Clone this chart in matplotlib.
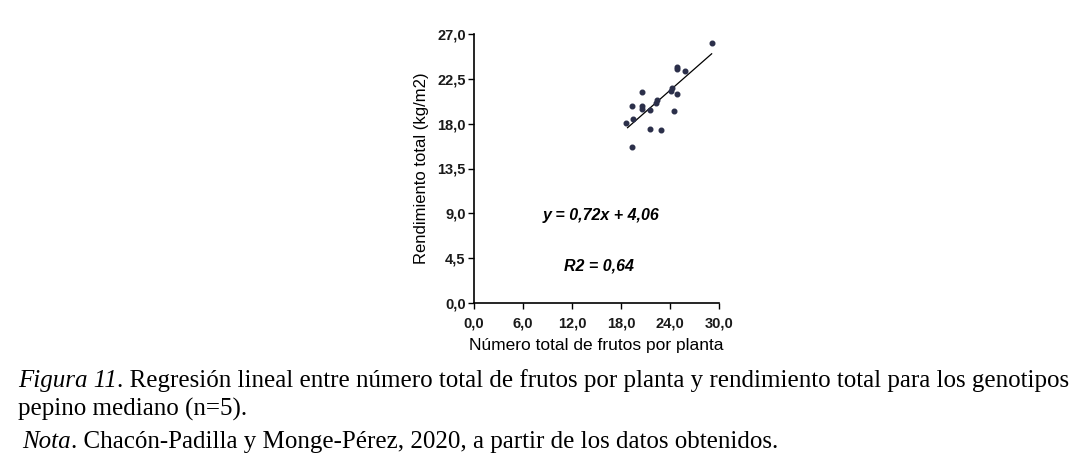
import matplotlib
matplotlib.use("Agg")
import matplotlib.pyplot as plt
import numpy as np

frutos = [29.2, 24.9, 24.8, 25.8, 24.2, 24.1, 24.9, 20.6, 22.4, 22.3, 19.3, 20.6,
          20.6, 21.5, 24.5, 19.5, 18.6, 21.5, 22.9, 19.4]
rendimiento = [26.1, 23.7, 23.5, 23.3, 21.6, 21.3, 21.0, 21.2, 20.4, 20.1, 19.8, 19.8,
               19.5, 19.4, 19.3, 18.5, 18.1, 17.5, 17.4, 15.7]
slope, intercept = 0.72, 4.06
line_x = [18.8, 29.1]
xticks = [0, 6, 12, 18, 24, 30]
yticks = [0, 4.5, 9, 13.5, 18, 22.5, 27]

W, H = 1074, 470
fig = plt.figure(figsize=(W/100, H/100), dpi=100)
ax = fig.add_axes([474/W, 1-303/H, (719-474)/W, (303-34)/H])
ax.scatter(frutos, rendimiento, s=11, color='#2b2f4a', zorder=3)
lx = np.array(line_x)
ax.plot(lx, slope*lx + intercept, color='black', lw=0.9)
ax.set_xlim(0, 30)
ax.set_ylim(0, 27)
ax.spines['top'].set_visible(False)
ax.spines['right'].set_visible(False)
for s in ['left', 'bottom']:
    ax.spines[s].set_linewidth(1.2)
ax.set_xticks(xticks)
ax.set_yticks(yticks)
fmt = lambda v: f"{v:.1f}".replace('.', ',')
ax.set_xticklabels([fmt(v) for v in xticks])
ax.set_yticklabels([fmt(v) for v in yticks])
ax.tick_params(direction='out', length=4, width=1, labelsize=10.5)
ax.tick_params(axis='x', pad=6)
ax.tick_params(axis='y', pad=2)
for lab in ax.get_xticklabels() + ax.get_yticklabels():
    lab.set_fontfamily('Liberation Sans')
    lab.set_fontweight('semibold')
    lab.set_color('#1a1a1a')
ax.set_xlabel('Número total de frutos por planta', fontsize=12.5, family='Liberation Sans', labelpad=5)
ax.set_ylabel('Rendimiento total (kg/m2)', fontsize=12, family='Liberation Sans', labelpad=6)
ax.text(15.6, 8.8, 'y = 0,72x + 4,06', fontsize=11.5, fontweight='bold', style='italic',
        family='Liberation Sans', ha='center', va='center')
ax.text(15.3, 3.7, 'R2 = 0,64', fontsize=11.5, fontweight='bold', style='italic',
        family='Liberation Sans', ha='center', va='center')

r = fig.canvas.get_renderer()
cfs = 18
tA = fig.text(18/W, 1-381/H, 'Figura 11', fontsize=cfs, style='italic', family='Liberation Serif', va='center')
bb = tA.get_window_extent(r)
fig.text(bb.x1/W, 1-381/H, '. Regresión lineal entre número total de frutos por planta y rendimiento total para los genotipos',
         fontsize=cfs, family='Liberation Serif', va='center')
fig.text(18/W, 1-409/H, 'pepino mediano (n=5).', fontsize=cfs, family='Liberation Serif', va='center')
tN = fig.text(22/W, 1-442/H, 'Nota', fontsize=cfs, style='italic', family='Liberation Serif', va='center')
bb2 = tN.get_window_extent(r)
fig.text(bb2.x1/W, 1-442/H, '. Chacón-Padilla y Monge-Pérez, 2020, a partir de los datos obtenidos.',
         fontsize=cfs, family='Liberation Serif', va='center')
fig.savefig('out.png', dpi=100)
